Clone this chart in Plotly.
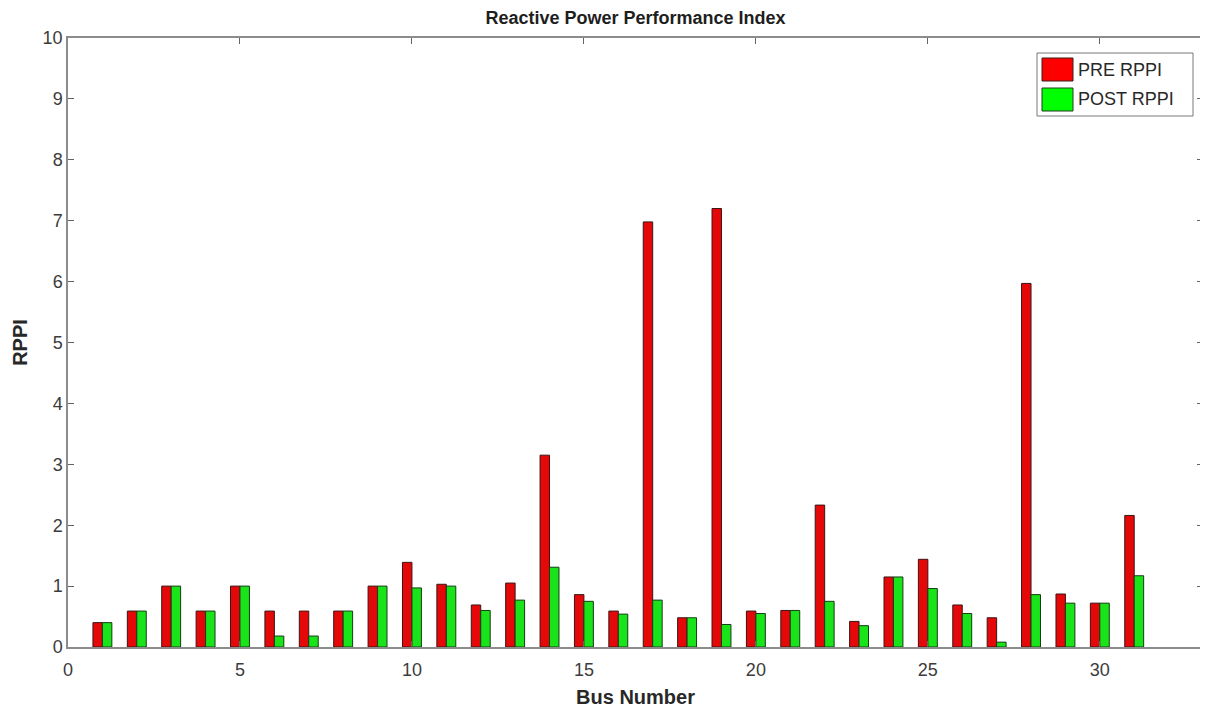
import plotly.graph_objects as go

buses = list(range(1, 32))
pre_rppi = [0.40, 0.59, 1.00, 0.59, 1.00, 0.59, 0.59, 0.59, 1.00, 1.39,
            1.03, 0.69, 1.05, 3.15, 0.86, 0.59, 6.98, 0.48, 7.20, 0.59,
            0.60, 2.33, 0.42, 1.15, 1.44, 0.69, 0.48, 5.97, 0.87, 0.72, 2.16]
post_rppi = [0.40, 0.59, 1.00, 0.59, 1.00, 0.18, 0.18, 0.59, 1.00, 0.97,
             1.00, 0.60, 0.77, 1.31, 0.75, 0.54, 0.77, 0.48, 0.37, 0.55,
             0.60, 0.75, 0.35, 1.15, 0.96, 0.55, 0.08, 0.86, 0.72, 0.72, 1.17]
series_names = ["PRE RPPI", "POST RPPI"]
x_ticks = [0, 5, 10, 15, 20, 25, 30]
y_ticks = list(range(0, 11))

RED = "rgb(228,8,8)"
GREEN = "rgb(25,228,25)"
FONT = "Liberation Sans, Arial"

fig = go.Figure()
fig.add_trace(go.Bar(x=buses, y=pre_rppi, name=series_names[0],
                     marker=dict(color=RED, line=dict(color="rgb(60,20,20)", width=1))))
fig.add_trace(go.Bar(x=buses, y=post_rppi, name=series_names[1],
                     marker=dict(color=GREEN, line=dict(color="rgb(20,60,20)", width=1))))

axis_common = dict(showline=True, linecolor="rgb(140,140,140)", linewidth=1.5,
                   mirror="ticks", ticks="inside", ticklen=6, tickcolor="rgb(100,100,100)",
                   showgrid=False, zeroline=False, automargin=False,
                   tickfont=dict(family=FONT, size=18, color="rgb(60,60,60)"))

# page offset (browser body margin) and target plot area in window pixels
OFF = 8
L, R, T, B = 68, 1203, 38, 647
W, H = 1200, 700


def px(xp):
    return (xp - L) / (R - L)


def py(yp):
    return (B - yp) / (B - T)


shapes = [
    dict(type="rect", xref="paper", yref="paper", x0=px(1037), x1=px(1193), y0=py(116), y1=py(53),
         line=dict(color="rgb(120,120,120)", width=1), fillcolor="white", layer="above"),
    dict(type="rect", xref="paper", yref="paper", x0=px(1042), x1=px(1073), y0=py(81), y1=py(58),
         line=dict(color="rgb(60,30,30)", width=1), fillcolor="rgb(255,0,0)", layer="above"),
    dict(type="rect", xref="paper", yref="paper", x0=px(1042), x1=px(1073), y0=py(111), y1=py(88),
         line=dict(color="rgb(30,60,30)", width=1), fillcolor="rgb(0,255,0)", layer="above"),
]
annotations = [
    dict(xref="paper", yref="paper", x=px(1076), y=py(70), text=series_names[0], showarrow=False,
         xanchor="left", yanchor="middle", font=dict(family=FONT, size=18, color="rgb(40,40,40)")),
    dict(xref="paper", yref="paper", x=px(1076), y=py(99), text=series_names[1], showarrow=False,
         xanchor="left", yanchor="middle", font=dict(family=FONT, size=18, color="rgb(40,40,40)")),
]

fig.update_layout(
    width=W, height=H,
    paper_bgcolor="white", plot_bgcolor="white",
    margin=dict(l=L - OFF, r=W - (R - OFF), t=T - OFF, b=H - (B - OFF), autoexpand=False),
    barmode="group", bargap=0.45, bargroupgap=0.0,
    showlegend=False,
    title=dict(text="<b>Reactive Power Performance Index</b>", x=(L - OFF + (R - L) / 2) / W,
               xanchor="center", y=1 - (18 - OFF) / H, yanchor="middle",
               font=dict(family=FONT, size=18, color="rgb(30,30,30)")),
    xaxis=dict(range=[0, 33], tickvals=x_ticks, ticklabelstandoff=6,
               title=dict(text="<b>Bus Number</b>", standoff=18,
                          font=dict(family=FONT, size=20, color="rgb(40,40,40)")),
               **axis_common),
    yaxis=dict(range=[0, 10], tickvals=y_ticks,
               title=dict(text="<b>RPPI</b>", standoff=10,
                          font=dict(family=FONT, size=20, color="rgb(40,40,40)")),
               **axis_common),
    shapes=shapes,
    annotations=annotations,
)

fig.write_html("out.html")
